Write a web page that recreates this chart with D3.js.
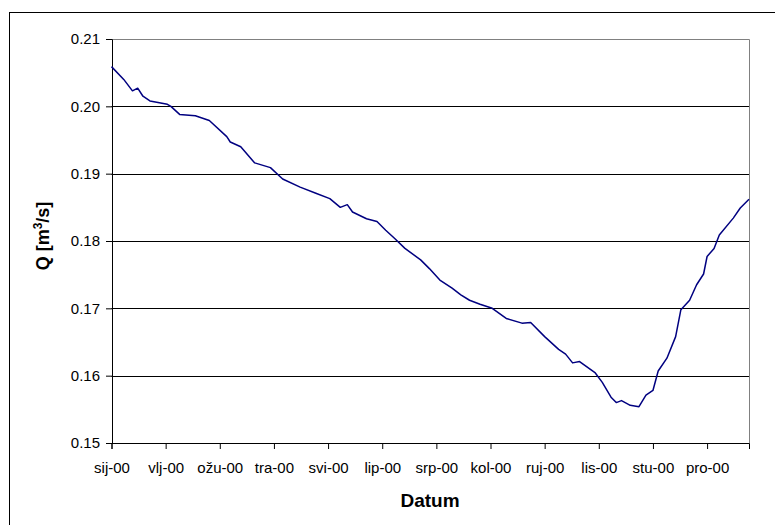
<!DOCTYPE html>
<html>
<head>
<meta charset="utf-8">
<script src="https://cdn.jsdelivr.net/npm/d3@7"></script>
<style>
  body { margin: 0; background: #fff; }
  svg text { font-family: "Liberation Sans", Arial, sans-serif; }
</style>
</head>
<body>
<div id="chart"></div>
<script>
// day of year 2000 (0 = 1 Jan) and flow Q in m3/s
var days = [0, 7, 12, 15, 18, 22, 32, 34, 39, 48, 56, 66, 68, 74, 82, 91, 98, 108, 117, 125,
            131, 135, 138, 146, 152, 157, 162, 168, 177, 182, 188, 195, 200, 205, 211, 218, 226, 235, 240, 248,
            256, 260, 264, 268, 277, 281, 286, 289, 292, 297, 302, 306, 310, 313, 318, 323, 326, 331, 335, 339,
            341, 345, 348, 356, 360, 365];
var flow = [0.2059, 0.2040, 0.2023, 0.2027, 0.2015, 0.2008, 0.2003, 0.2000, 0.1988, 0.1986, 0.1979, 0.1955, 0.1947, 0.1940, 0.1916, 0.1909, 0.1892, 0.1880, 0.1871, 0.1863,
            0.1850, 0.1854, 0.1843, 0.1833, 0.1829, 0.1816, 0.1804, 0.1789, 0.1772, 0.1759, 0.1742, 0.1730, 0.1720, 0.1712, 0.1706, 0.1700, 0.1685, 0.1678, 0.1679, 0.1658,
            0.1639, 0.1632, 0.1619, 0.1621, 0.1604, 0.1590, 0.1568, 0.1560, 0.1563, 0.1556, 0.1554, 0.1571, 0.1578, 0.1607, 0.1626, 0.1658, 0.1698, 0.1712, 0.1735, 0.1751,
            0.1777, 0.1789, 0.1809, 0.1834, 0.1849, 0.1862];

var monthLabels = ["sij-00", "vlj-00", "ožu-00", "tra-00", "svi-00", "lip-00", "srp-00", "kol-00", "ruj-00", "lis-00", "stu-00", "pro-00"];
var monthTicks = [0, 31, 62, 93, 124, 155, 186, 217, 248, 279, 310, 341];
var yTicks = [0.15, 0.16, 0.17, 0.18, 0.19, 0.20, 0.21];

var W = 775, H = 525;
var plot = {left: 111.5, top: 39, right: 749, bottom: 443};

var svg = d3.select("#chart")
    .append("svg")
    .attr("width", W)
    .attr("height", H);

// chart area frame (runs off the right and bottom edges)
svg.append("rect")
    .attr("x", 9.5).attr("y", 12.5)
    .attr("width", 900).attr("height", 700)
    .attr("fill", "#fff")
    .attr("stroke", "#000")
    .attr("stroke-width", 1);

var x = d3.scaleLinear()
    .domain([0, 365])
    .range([plot.left, plot.right]);

var y = d3.scaleLinear()
    .domain([0.15, 0.21])
    .range([plot.bottom, plot.top]);

function crisp(v) { return Math.round(v) + 0.5; }

// horizontal gridlines
svg.append("g")
    .selectAll("line")
    .data(yTicks.slice(1, -1))
    .enter()
    .append("line")
    .attr("x1", plot.left).attr("x2", plot.right)
    .attr("y1", function(d) { return crisp(y(d)); })
    .attr("y2", function(d) { return crisp(y(d)); })
    .attr("stroke", "#000");

// plot area border top / right in gray
svg.append("path")
    .attr("d", "M" + crisp(plot.left) + "," + crisp(y(0.21)) + "H" + crisp(plot.right) + "V" + crisp(y(0.15)))
    .attr("fill", "none")
    .attr("stroke", "#808080");

// y axis
var yAxis = svg.append("g")
    .attr("transform", "translate(" + (crisp(plot.left) - 0.5) + ",0)")
    .call(d3.axisLeft(y).tickValues(yTicks).tickFormat(d3.format(".2f")).tickSizeOuter(0).tickSize(6).tickPadding(6));

// x axis
var xAxis = svg.append("g")
    .attr("transform", "translate(0," + (crisp(plot.bottom) - 0.5) + ")")
    .call(d3.axisBottom(x).tickValues(monthTicks).tickFormat(function(d, i) { return monthLabels[i]; })
        .tickSizeOuter(0).tickSize(6).tickPadding(13));

svg.selectAll(".domain").attr("stroke", "#000");
svg.selectAll(".tick line").attr("stroke", "#000");
svg.selectAll(".tick text")
    .attr("fill", "#000")
    .style("font-size", "15px")
    .style("font-family", "'Liberation Sans', Arial, sans-serif");
yAxis.selectAll(".tick text").attr("x", -12);

// series
var points = days.map(function(d, i) { return [d, flow[i]]; });
svg.append("path")
    .datum(points)
    .attr("fill", "none")
    .attr("stroke", "#000080")
    .attr("stroke-width", 1.5)
    .attr("stroke-linejoin", "round")
    .attr("d", d3.line()
        .x(function(d) { return x(d[0]); })
        .y(function(d) { return y(d[1]); }));

// axis titles
svg.append("text")
    .attr("x", 430)
    .attr("y", 507)
    .attr("text-anchor", "middle")
    .style("font-size", "19px")
    .style("font-weight", "bold")
    .text("Datum");

var yt = svg.append("text")
    .attr("transform", "translate(49,236) rotate(-90)")
    .attr("text-anchor", "middle")
    .style("font-size", "18px")
    .style("font-weight", "bold");
yt.append("tspan").text("Q [m");
yt.append("tspan").attr("dy", -7).style("font-size", "12px").text("3");
yt.append("tspan").attr("dy", 7).text("/s]");
</script>
</body>
</html>
